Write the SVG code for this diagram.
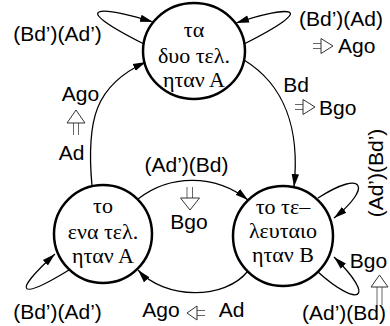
<svg xmlns="http://www.w3.org/2000/svg" width="390" height="326" viewBox="0 0 390 326">
<style>
.node{fill:#fff;stroke:#000;stroke-width:2.5}
.edge{fill:none;stroke:#000;stroke-width:1.3;marker-end:url(#ah)}
.gr{font-family:"Liberation Serif","DejaVu Serif",serif;font-size:22px;text-anchor:middle;fill:#000}
.lb{font-family:"Liberation Sans",Arial,sans-serif;font-size:21px;text-anchor:middle;fill:#000}
.st{text-anchor:start}
.hs{fill:none;stroke:#666;stroke-width:1}
.hh{fill:#fff;stroke:#333;stroke-width:1}
</style>
<defs>
<marker id="ah" markerWidth="14" markerHeight="9" refX="13" refY="4.5" orient="auto" markerUnits="userSpaceOnUse">
<path d="M0,0.8 L13,4.5 L0,8.2 Z" fill="#000"/>
</marker>
</defs>
<rect width="390" height="326" fill="#fff"/>
<g id="connectors">
<path class="edge" d="M92,186 C86,120 95,85 146,62"/>
<path class="edge" d="M244,60 C285,85 300,130 294,187"/>
<path class="edge" d="M138,199 C170,174 215,174 248,200"/>
<path class="edge" d="M248,271 C225,300 165,300 138,270"/>
<path class="edge" d="M144,44 C65,4 100,6 153,22"/>
<path class="edge" d="M244,44 C323,4 288,6 236,23"/>
<path class="edge" d="M69,270 C20,300 10,295 55,254"/>
<path class="edge" d="M318,198 C365,168 372,188 334,218"/>
<path class="edge" d="M318,272 C358,308 378,300 334,257"/>
</g>
<g id="node-top">
<ellipse class="node" cx="194" cy="51" rx="51" ry="48"/>
<text class="gr" x="194" y="37">τα</text>
<text class="gr" x="194" y="63">δυο τελ.</text>
<text class="gr" x="194" y="87">ηταν Α</text>
</g>
<g id="node-left">
<circle class="node" cx="103" cy="234" r="49"/>
<text class="gr" x="103" y="213">το</text>
<text class="gr" x="103" y="239">ενα τελ.</text>
<text class="gr" x="103" y="263">ηταν Α</text>
</g>
<g id="node-right">
<circle class="node" cx="283" cy="236" r="50"/>
<text class="gr" x="283" y="214">το τε–</text>
<text class="gr" x="283" y="238">λευταιο</text>
<text class="gr" x="283" y="262">ηταν Β</text>
</g>
<g id="labels">
<text class="lb" x="57.5" y="41">(Bd’)(Ad’)</text>
<text class="lb" x="341" y="26">(Bd’)(Ad)</text>
<text class="lb st" x="338" y="53">Ago</text>
<text class="lb" x="296" y="92">Bd</text>
<text class="lb st" x="319" y="115">Bgo</text>
<text class="lb" x="80.5" y="101">Ago</text>
<text class="lb" x="71.5" y="160">Ad</text>
<text class="lb" x="186.5" y="172">(Ad’)(Bd)</text>
<text class="lb" x="189" y="229">Bgo</text>
<text class="lb" x="57.5" y="319">(Bd’)(Ad’)</text>
<text class="lb" x="161" y="317">Ago</text>
<text class="lb" x="231.5" y="317">Ad</text>
<text class="lb" x="368.5" y="268">Bgo</text>
<text class="lb" x="344" y="320">(Ad’)(Bd)</text>
<text class="lb" transform="translate(383,173) rotate(-90)">(Ad’)(Bd’)</text>
</g>
<g id="implications">
<path class="hs" d="M73.5,123 V135 M78.5,123 V135"/>
<path class="hh" d="M76,110 L67,123 L85,123 Z"/>
<path class="hs" d="M295,104.5 H303 M295,109.5 H303"/>
<path class="hh" d="M315,107 L303,99.5 L303,114.5 Z"/>
<path class="hs" d="M313,43.5 H321 M313,48.5 H321"/>
<path class="hh" d="M333,46 L321,38.5 L321,53.5 Z"/>
<path class="hs" d="M187,187 V198 M192.5,187 V198"/>
<path class="hh" d="M190,210 L180.5,198 L199.5,198 Z"/>
<path class="hs" d="M197,310.5 H205 M197,315.5 H205"/>
<path class="hh" d="M187,313 L197,306 L197,320 Z"/>
<path class="hs" d="M377,287 V305 M382,287 V305"/>
<path class="hh" d="M379.5,275 L371,287 L388,287 Z"/>
</g>
</svg>
